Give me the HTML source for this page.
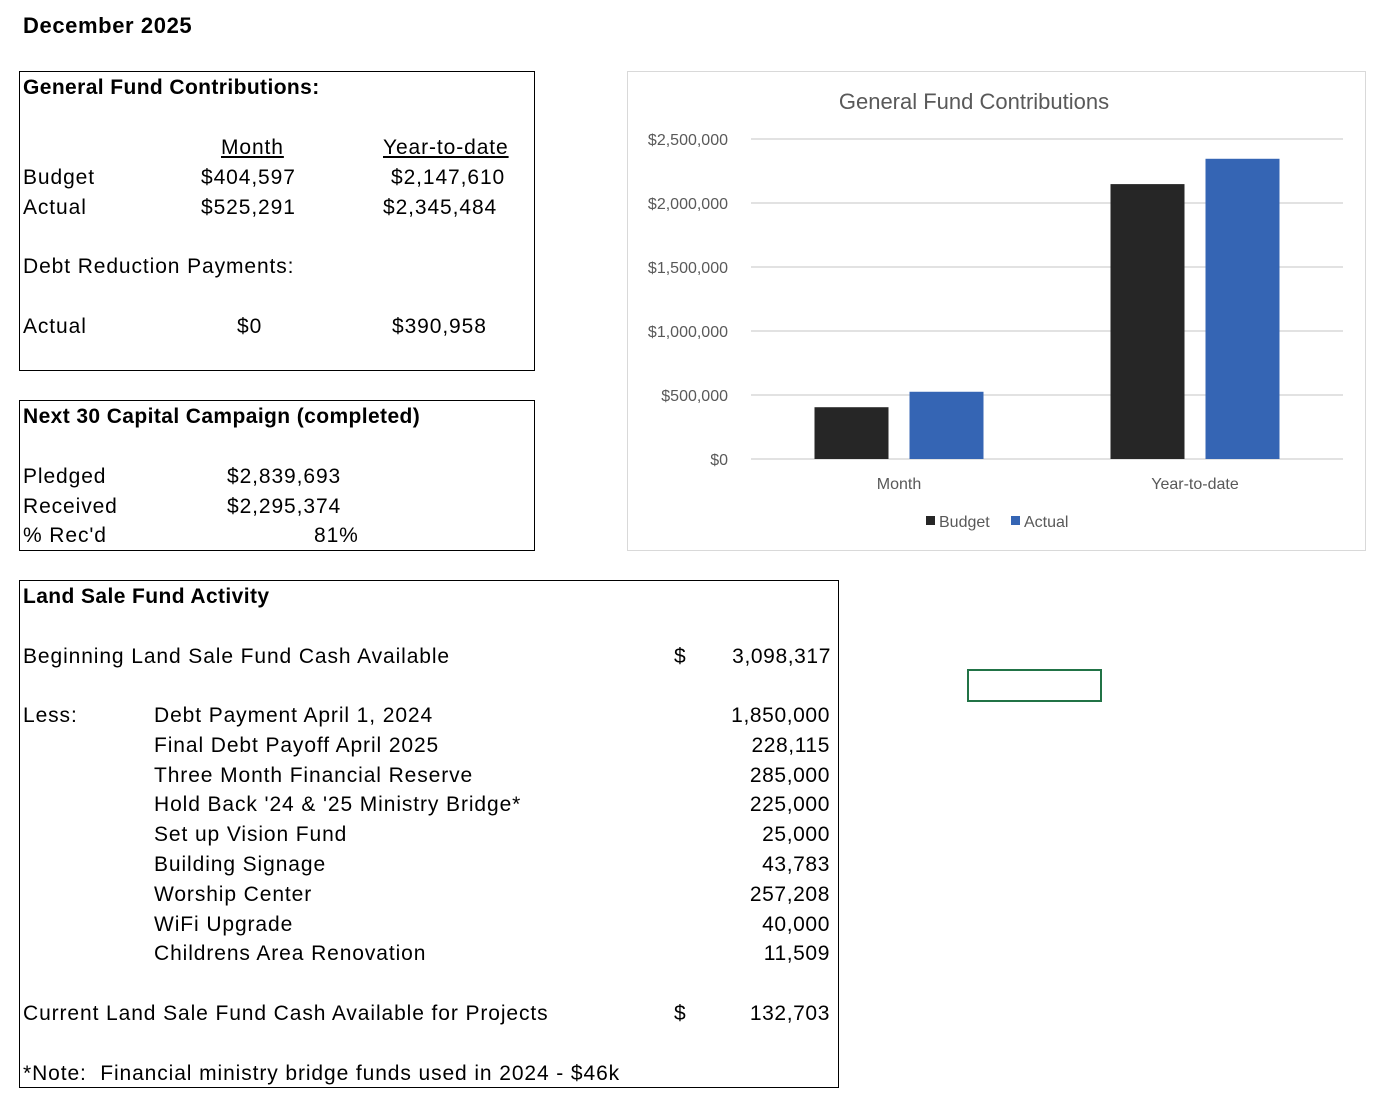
<!DOCTYPE html>
<html><head><meta charset="utf-8"><style>
body{margin:0;width:1392px;height:1110px;background:#fff;font-family:"Liberation Sans",sans-serif;color:#000;position:relative;overflow:hidden}
.a{position:absolute;white-space:nowrap;font-size:21px;line-height:24px;letter-spacing:0.9px}
.b{font-weight:bold;letter-spacing:0.4px}
.box{position:absolute;border:1px solid #000}
.r{text-align:right;letter-spacing:0.6px}
.u{text-decoration:underline}
</style></head><body>
<div class="a b" style="left:23px;top:14px;font-size:22px;letter-spacing:0.6px">December 2025</div>

<div class="box" style="left:19px;top:71px;width:514px;height:298px"></div>
<div class="a b" style="left:23px;top:76px">General Fund Contributions:</div>
<div class="a u" style="left:221px;top:136px">Month</div>
<div class="a u" style="left:383px;top:136px">Year-to-date</div>
<div class="a" style="left:23px;top:166px">Budget</div>
<div class="a" style="left:201px;top:166px">$404,597</div>
<div class="a" style="left:391px;top:166px">$2,147,610</div>
<div class="a" style="left:23px;top:196px">Actual</div>
<div class="a" style="left:201px;top:196px">$525,291</div>
<div class="a" style="left:383px;top:196px">$2,345,484</div>
<div class="a" style="left:23px;top:255px">Debt Reduction Payments:</div>
<div class="a" style="left:23px;top:315px">Actual</div>
<div class="a" style="left:237px;top:315px">$0</div>
<div class="a" style="left:392px;top:315px">$390,958</div>

<div class="box" style="left:19px;top:400px;width:514px;height:149px"></div>
<div class="a b" style="left:23px;top:405px">Next 30 Capital Campaign (completed)</div>
<div class="a" style="left:23px;top:465px">Pledged</div>
<div class="a" style="left:227px;top:465px">$2,839,693</div>
<div class="a" style="left:23px;top:495px">Received</div>
<div class="a" style="left:227px;top:495px">$2,295,374</div>
<div class="a" style="left:23px;top:524px">% Rec'd</div>
<div class="a" style="left:314px;top:524px">81%</div>

<div class="box" style="left:19px;top:580px;width:818px;height:506px"></div>
<div class="a b" style="left:23px;top:585px">Land Sale Fund Activity</div>
<div class="a" style="left:23px;top:645px">Beginning Land Sale Fund Cash Available</div>
<div class="a" style="left:674px;top:645px">$</div>
<div class="a r" style="right:561px;top:645px">3,098,317</div>
<div class="a" style="left:23px;top:704px">Less:</div>
<div id="items"></div>
<div class="a" style="left:23px;top:1002px">Current Land Sale Fund Cash Available for Projects</div>
<div class="a" style="left:674px;top:1002px">$</div>
<div class="a r" style="right:562px;top:1002px">132,703</div>
<div class="a" style="left:23px;top:1062px">*Note:&nbsp; Financial ministry bridge funds used in 2024 - $46k</div>

<div style="position:absolute;left:967px;top:669px;width:131px;height:29px;border:2px solid #217346"></div>

<div class="box" style="left:627px;top:71px;width:737px;height:478px;border-color:#d9d9d9"></div>
<svg id="chart" style="position:absolute;left:0;top:0" width="1392" height="1110"></svg>

<script>
const lessItems=["Debt Payment April 1, 2024","Final Debt Payoff April 2025","Three Month Financial Reserve","Hold Back '24 & '25 Ministry Bridge*","Set up Vision Fund","Building Signage","Worship Center","WiFi Upgrade","Childrens Area Renovation"];
const lessValues=["1,850,000","228,115","285,000","225,000","25,000","43,783","257,208","40,000","11,509"];
const itemsEl=document.getElementById('items');
lessItems.forEach((t,i)=>{
  const y=704+i*29.8;
  const a=document.createElement('div');a.className='a';a.style.left='154px';a.style.top=y+'px';a.textContent=t;
  
  
  itemsEl.appendChild(a);
  const b=document.createElement('div');b.className='a r';b.style.right='562px';b.style.top=y+'px';b.textContent=lessValues[i];
  
  
  itemsEl.appendChild(b);
});

const categories=["Month","Year-to-date"];
const budgetValues=[404597,2147610];
const actualValues=[525291,2345484];
const yTicks=[0,500000,1000000,1500000,2000000,2500000];
const tickLabels=["$0","$500,000","$1,000,000","$1,500,000","$2,000,000","$2,500,000"];
const seriesNames=["Budget","Actual"];
const seriesColors=["#262626","#3565b4"];

const NS='http://www.w3.org/2000/svg';
const svg=document.getElementById('chart');
const x0=751,x1=1343,y0=459,yTop=139,maxV=2500000;
const yScale=v=>y0-(v/maxV)*(y0-yTop);
const catW=(x1-x0)/categories.length;
const xCat=i=>x0+catW*(i+0.5);
function el(tag,attrs,txt){const e=document.createElementNS(NS,tag);for(const k in attrs)e.setAttribute(k,attrs[k]);if(txt!=null)e.textContent=txt;svg.appendChild(e);return e;}
const ff='"Liberation Sans", sans-serif';
let t=el('text',{x:974,y:109,'text-anchor':'middle','font-size':22,fill:'#595959','font-family':ff},'General Fund Contributions');


yTicks.forEach((v,i)=>{
  const g=el('line',{x1:x0,x2:x1,y1:yScale(v),y2:yScale(v),stroke:'#d9d9d9','stroke-width':1.5});
  
  
  const l=el('text',{x:728,y:yScale(v)+6,'text-anchor':'end','font-size':16,fill:'#595959','font-family':ff},tickLabels[i]);
  
  
});
const bw=74,gap=21;
categories.forEach((c,i)=>{
  const cx=xCat(i);
  [budgetValues,actualValues].forEach((arr,s)=>{
    const x=s===0?cx-gap/2-bw:cx+gap/2;
    const r=el('rect',{x:x,y:yScale(arr[i]),width:bw,height:y0-yScale(arr[i]),fill:seriesColors[s]});
    
    
  });
  const l=el('text',{x:cx,y:489,'text-anchor':'middle','font-size':16,fill:'#595959','font-family':ff},c);
  
  
});
const lx=[926,1011];
seriesNames.forEach((n,s)=>{
  const r=el('rect',{x:lx[s],y:516,width:9,height:9,fill:seriesColors[s]});
  
  
  const l=el('text',{x:lx[s]+13,y:527,'font-size':16,fill:'#595959','font-family':ff},n);
  
  
});
</script>
</body></html>
